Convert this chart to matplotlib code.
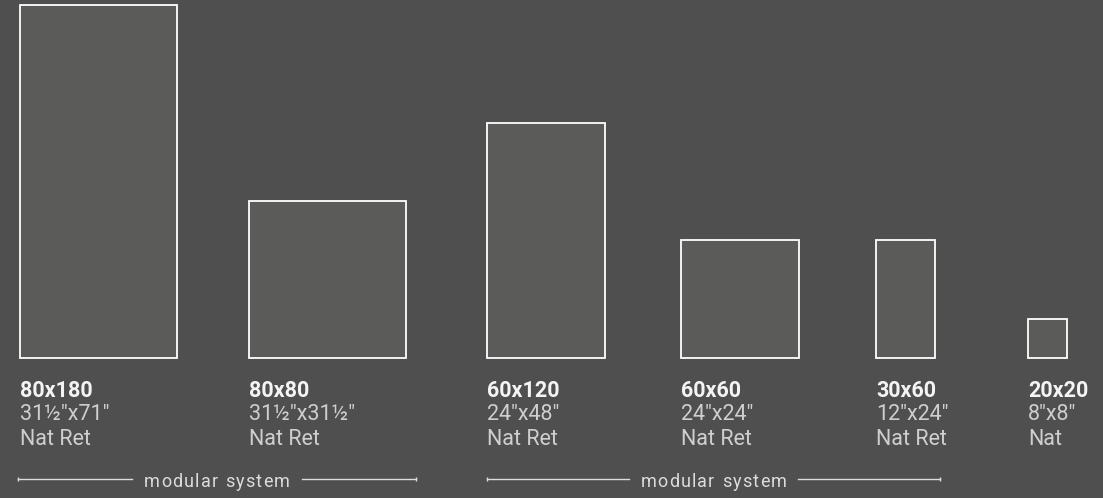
import matplotlib.pyplot as plt
from matplotlib.patches import Rectangle

# Tile formats (cm) and labels
sizes = ["80x180", "80x80", "60x120", "60x60", "30x60", "20x20"]
widths_cm = [80, 80, 60, 60, 30, 20]
heights_cm = [180, 80, 120, 60, 60, 20]
inches = ["31½\"x71\"", "31½\"x31½\"", "24\"x48\"", "24\"x24\"", "12\"x24\"", "8\"x8\""]
finishes = ["Nat Ret", "Nat Ret", "Nat Ret", "Nat Ret", "Nat Ret", "Nat"]
group_label = "modular system"

# layout (pixels)
lefts = [20, 249, 487, 681, 876, 1028]
base_y = 358
scale = 1.96  # px per cm
groups = [(18, 416), (487, 940)]

bg = "#4f4f4f"
fill = "#5b5b59"

fig = plt.figure(figsize=(11.03, 4.98), dpi=100, facecolor=bg)
ax = fig.add_axes([0, 0, 1, 1])
ax.set_facecolor(bg)
ax.set_xlim(0, 1103)
ax.set_ylim(498, 0)
ax.axis("off")

for x, w, h, name, inch, fin in zip(lefts, widths_cm, heights_cm, sizes, inches, finishes):
    ax.add_patch(Rectangle((x, base_y - h * scale), w * scale, h * scale,
                           facecolor=fill, edgecolor="white", lw=1.3))
    ax.text(x, 397, name, color="#f4f4f4", fontsize=15.5, fontweight="bold",
            family="Roboto", va="baseline", ha="left")
    ax.text(x, 420, inch, color="#cfcfcf", fontsize=15.5, fontweight="normal",
            family="Roboto", va="baseline", ha="left")
    ax.text(x, 445, fin, color="#cfcfcf", fontsize=15.5, fontweight="normal",
            family="Roboto", va="baseline", ha="left")

# "modular system" bracket lines with letter-spaced caption
fig.canvas.draw()
renderer = fig.canvas.get_renderer()
tracking = 1.2
y_line = 479
for x0, x1 in groups:
    chars = []
    total = 0
    for c in group_label:
        t = ax.text(0, 0, c if c != " " else "n", fontsize=13, family="Roboto",
                    color="#dcdcdc")
        bb = t.get_window_extent(renderer)
        t.remove()
        adv = bb.width if c != " " else bb.width * 0.5
        chars.append((c, adv))
        total += adv + tracking
    total -= tracking
    mid = (x0 + x1) / 2
    start = mid - total / 2
    gap = 12
    ax.plot([x0, start - gap], [y_line, y_line], color="#dcdcdc", lw=1)
    ax.plot([start + total + gap, x1], [y_line, y_line], color="#dcdcdc", lw=1)
    ax.plot([x0, x1], [y_line, y_line], ls="none", marker="|", ms=3,
            color="#dcdcdc", mew=1)
    xc = start
    for c, adv in chars:
        if c != " ":
            ax.text(xc, 487, c, fontsize=13, family="Roboto", color="#dcdcdc",
                    ha="left", va="baseline")
        xc += adv + tracking

fig.savefig("out.png", dpi=100, facecolor=bg)
